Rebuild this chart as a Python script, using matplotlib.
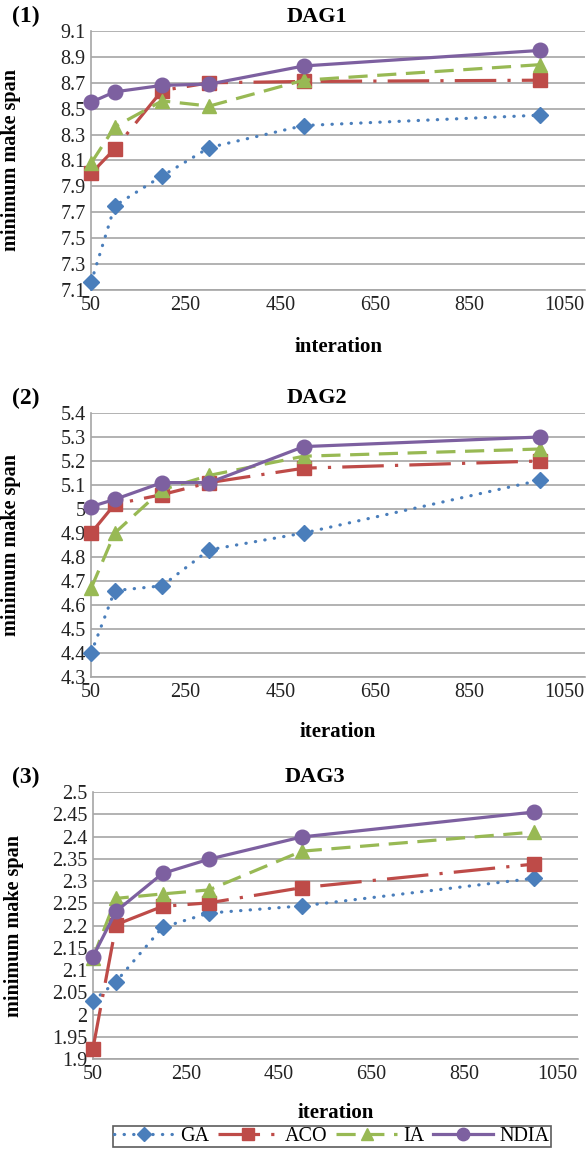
import matplotlib
matplotlib.use('Agg')
import numpy as np
import matplotlib.pyplot as plt
from matplotlib.ticker import FuncFormatter

plt.rcParams['font.family'] = ['Liberation Serif', 'DejaVu Serif']

iterations = [50, 100, 200, 300, 500, 1000]

# DAG1
dag1_ga = [7.16, 7.75, 7.98, 8.20, 8.37, 8.45]
dag1_aco = [8.00, 8.19, 8.64, 8.70, 8.71, 8.72]
dag1_ia = [8.08, 8.36, 8.56, 8.52, 8.72, 8.84]
dag1_ndia = [8.55, 8.63, 8.68, 8.69, 8.83, 8.95]

# DAG2
dag2_ga = [4.40, 4.66, 4.68, 4.83, 4.90, 5.12]
dag2_aco = [4.90, 5.02, 5.06, 5.11, 5.17, 5.20]
dag2_ia = [4.67, 4.90, 5.08, 5.14, 5.22, 5.25]
dag2_ndia = [5.01, 5.04, 5.11, 5.11, 5.26, 5.30]

# DAG3
dag3_ga = [2.03, 2.074, 2.196, 2.228, 2.244, 2.306]
dag3_aco = [1.923, 2.202, 2.243, 2.251, 2.285, 2.338]
dag3_ia = [2.127, 2.261, 2.271, 2.28, 2.367, 2.41]
dag3_ndia = [2.13, 2.232, 2.317, 2.349, 2.399, 2.455]

names = ['GA', 'ACO', 'IA', 'NDIA']
colors = ['#4A7EBB', '#BE4B48', '#98B954', '#7D60A0']
markers = ['D', 's', '^', 'o']
msizes = [8, 9.5, 10, 10.5]
styles = [(0, (0.1, 2.9)), (0, (13, 3.5, 1, 3.5)), (0, (6, 3)), '-']
caps = ['round', 'butt', 'butt', 'round']

panels = [
    ('(1)', 'DAG1', 'interation', [dag1_ga, dag1_aco, dag1_ia, dag1_ndia],
     (7.1, 9.1), 0.2, [0.155, 0.7483, 0.84, 0.2248], -0.18),
    ('(2)', 'DAG2', 'iteration', [dag2_ga, dag2_aco, dag2_ia, dag2_ndia],
     (4.3, 5.4), 0.1, [0.155, 0.4123, 0.84, 0.2292], -0.17),
    ('(3)', 'DAG3', 'iteration', [dag3_ga, dag3_aco, dag3_ia, dag3_ndia],
     (1.9, 2.5), 0.05, [0.158, 0.0807, 0.825, 0.2318], -0.165),
]

fig = plt.figure(figsize=(5.88, 11.52), dpi=100)
grid_col = '#A6A6A6'
fmt = FuncFormatter(lambda v, p: f"{round(v, 2):g}")

handles = []
for tag, title, xlab, series, ylim, step, rect, xl_y in panels:
    ax = fig.add_axes(rect)
    handles = []
    for i, vals in enumerate(series):
        h, = ax.plot(iterations, vals, color=colors[i], lw=2.3,
                     linestyle=styles[i], dash_capstyle=caps[i],
                     marker=markers[i], markersize=msizes[i],
                     markerfacecolor=colors[i], markeredgecolor=colors[i],
                     label=names[i], clip_on=False, zorder=3 + i)
        handles.append(h)
    ax.set_xlim(50, 1095)
    ax.set_xticks([50, 250, 450, 650, 850, 1050])
    ax.set_ylim(*ylim)
    nt = int(round((ylim[1] - ylim[0]) / step)) + 1
    ax.set_yticks(ylim[0] + step * np.arange(nt))
    ax.yaxis.set_major_formatter(fmt)
    ax.grid(axis='y', color=grid_col, lw=1.2)
    ax.set_axisbelow(True)
    for s in ['top', 'right']:
        ax.spines[s].set_visible(False)
    for s in ['left', 'bottom']:
        ax.spines[s].set_color(grid_col)
        ax.spines[s].set_linewidth(1.2)
    ax.tick_params(length=0, labelsize=14.5, colors='#222222', pad=4)
    ax.set_ylabel('minimum make span', fontsize=14.5, fontweight='bold')
    ax.yaxis.set_label_coords(-0.142, 0.5)
    ax.set_xlabel(xlab, fontsize=15, fontweight='bold')
    ax.xaxis.set_label_coords(0.5, xl_y)
    ax.text(0.457, 1.055, title, transform=ax.transAxes, ha='center',
            va='center', fontsize=16, fontweight='bold')
    top_px = (1 - (rect[1] + rect[3])) * 1152
    fig.text(26 / 588, 1 - (top_px - 15) / 1152, tag, ha='center',
             va='center', fontsize=17, fontweight='bold')

leg = fig.legend(handles=handles, labels=names, loc='center',
                 bbox_to_anchor=(0.564, 0.0135), ncol=4, fontsize=14.5,
                 frameon=True, fancybox=False, handlelength=3.0,
                 handletextpad=0.3, columnspacing=0.45, borderpad=0.05,
                 borderaxespad=0, markerscale=0.85)
leg.get_frame().set_edgecolor('#333333')
leg.get_frame().set_linewidth(1.2)

fig.savefig('out.png', dpi=100)
